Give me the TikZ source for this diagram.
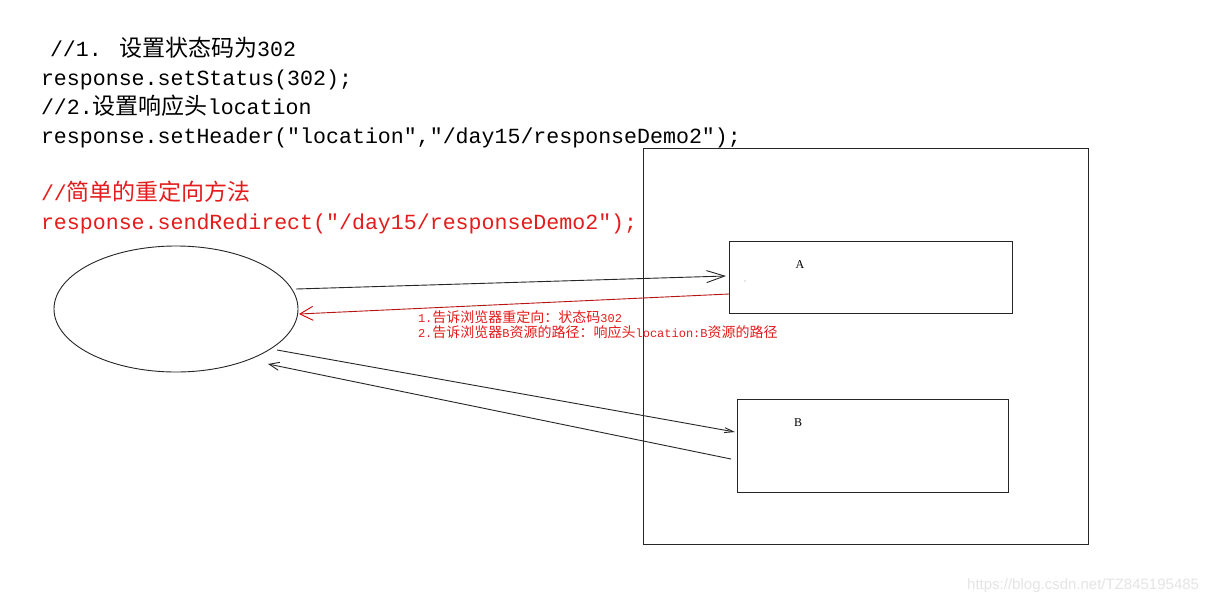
\documentclass[tikz,border=0pt]{standalone}
\usepackage{fontspec}
\setmainfont{Liberation Serif}
\newfontfamily\cjkfont{Noto Sans CJK SC}
\newfontfamily\monofont{Liberation Mono}
\newfontfamily\wmfont{Liberation Sans}
\usetikzlibrary{arrows.meta,shapes.geometric}
\definecolor{codered}{RGB}{228,28,28}
\definecolor{arrowred}{RGB}{185,20,20}
\newcommand\bigcjk[1]{{\cjkfont\fontsize{23}{26}\selectfont #1}}
\newcommand\smallcjk[1]{{\cjkfont\fontsize{14}{16}\selectfont #1}}
\tikzset{
  code/.style={anchor=base west, inner sep=0pt, outer sep=0pt, font=\monofont\fontsize{21.6}{26}\selectfont},
  note/.style={anchor=base west, inner sep=0pt, outer sep=0pt, text=codered, font=\monofont\fontsize{12}{14}\selectfont},
  box/.style={draw=black!85, line width=1pt, rectangle, inner sep=0pt, outer sep=0pt},
  boxlabel/.style={inner sep=0pt, font=\fontsize{12}{14}\selectfont},
  conn/.style={draw=black!85, line width=0.9pt},
}
\begin{document}
\begin{tikzpicture}[x=1pt,y=-1pt]
\fill[white] (0,0) rectangle (1222,605);
\useasboundingbox (0,0) rectangle (1222,605);

% code text
\node[code] (l1) at (50,56) {//1. \bigcjk{设置状态码为}302};
\node[code] (l2) at (41,85) {response.setStatus(302);};
\node[code] (l3) at (41,114) {//2.\bigcjk{设置响应头}location};
\node[code] (l4) at (41,143) {response.setHeader("location","/day15/responseDemo2");};
\node[code, text=codered] (l5) at (41,200) {//\bigcjk{简单的重定向方法}};
\node[code, text=codered] (l6) at (41,229) {response.sendRedirect("/day15/responseDemo2");};

% server and resources
\node[box, minimum width=445pt, minimum height=396pt] (server) at (865.5,346) {};
\node[box, minimum width=283pt, minimum height=72pt] (A) at (870.5,277) {};
\node[box, minimum width=271pt, minimum height=93pt] (B) at (872.5,445.5) {};
\node[boxlabel] (labA) at (800,265) {A};
\node[boxlabel] (labB) at (798,423) {B};
\fill[black!40] (745,281) circle (0.7pt);

% browser
\node[draw=black!85, line width=0.9pt, ellipse, inner sep=0pt, outer sep=0pt,
      minimum width=244pt, minimum height=126pt] (browser) at (176,309) {};

% connector end points
\coordinate (s1) at (296,289);
\coordinate (t1) at (726,276);
\coordinate (s2) at (729,294);
\coordinate (t2) at (299,314);
\coordinate (s3) at (277,350);
\coordinate (t3) at (735,432);
\coordinate (s4) at (731,459);
\coordinate (t4) at (268,364);

\draw[conn, -{Straight Barb[length=18pt,width=12pt]}] (s1) -- (t1);
\draw[conn, draw=arrowred, -{Straight Barb[length=13pt,width=14pt,color=red!85!black]}] (s2) -- (t2);
\draw[conn, -{Straight Barb[length=9pt,width=5pt]}] (s3) -- (t3);
\draw[conn, -{Straight Barb[length=10pt,width=8pt]}] (s4) -- (t4);

% notes
\node[note] (n1) at (418,322) {1.\smallcjk{告诉浏览器重定向：状态码}302};
\node[note] (n2) at (418,337) {2.\smallcjk{告诉浏览器}B\smallcjk{资源的路径：响应头}location:B\smallcjk{资源的路径}};

% watermark
\node[anchor=west, inner sep=0pt, text=black!10, font=\wmfont\fontsize{15}{18}\selectfont] (wm) at (967,586) {https://blog.csdn.net/TZ845195485};
\end{tikzpicture}
\end{document}
